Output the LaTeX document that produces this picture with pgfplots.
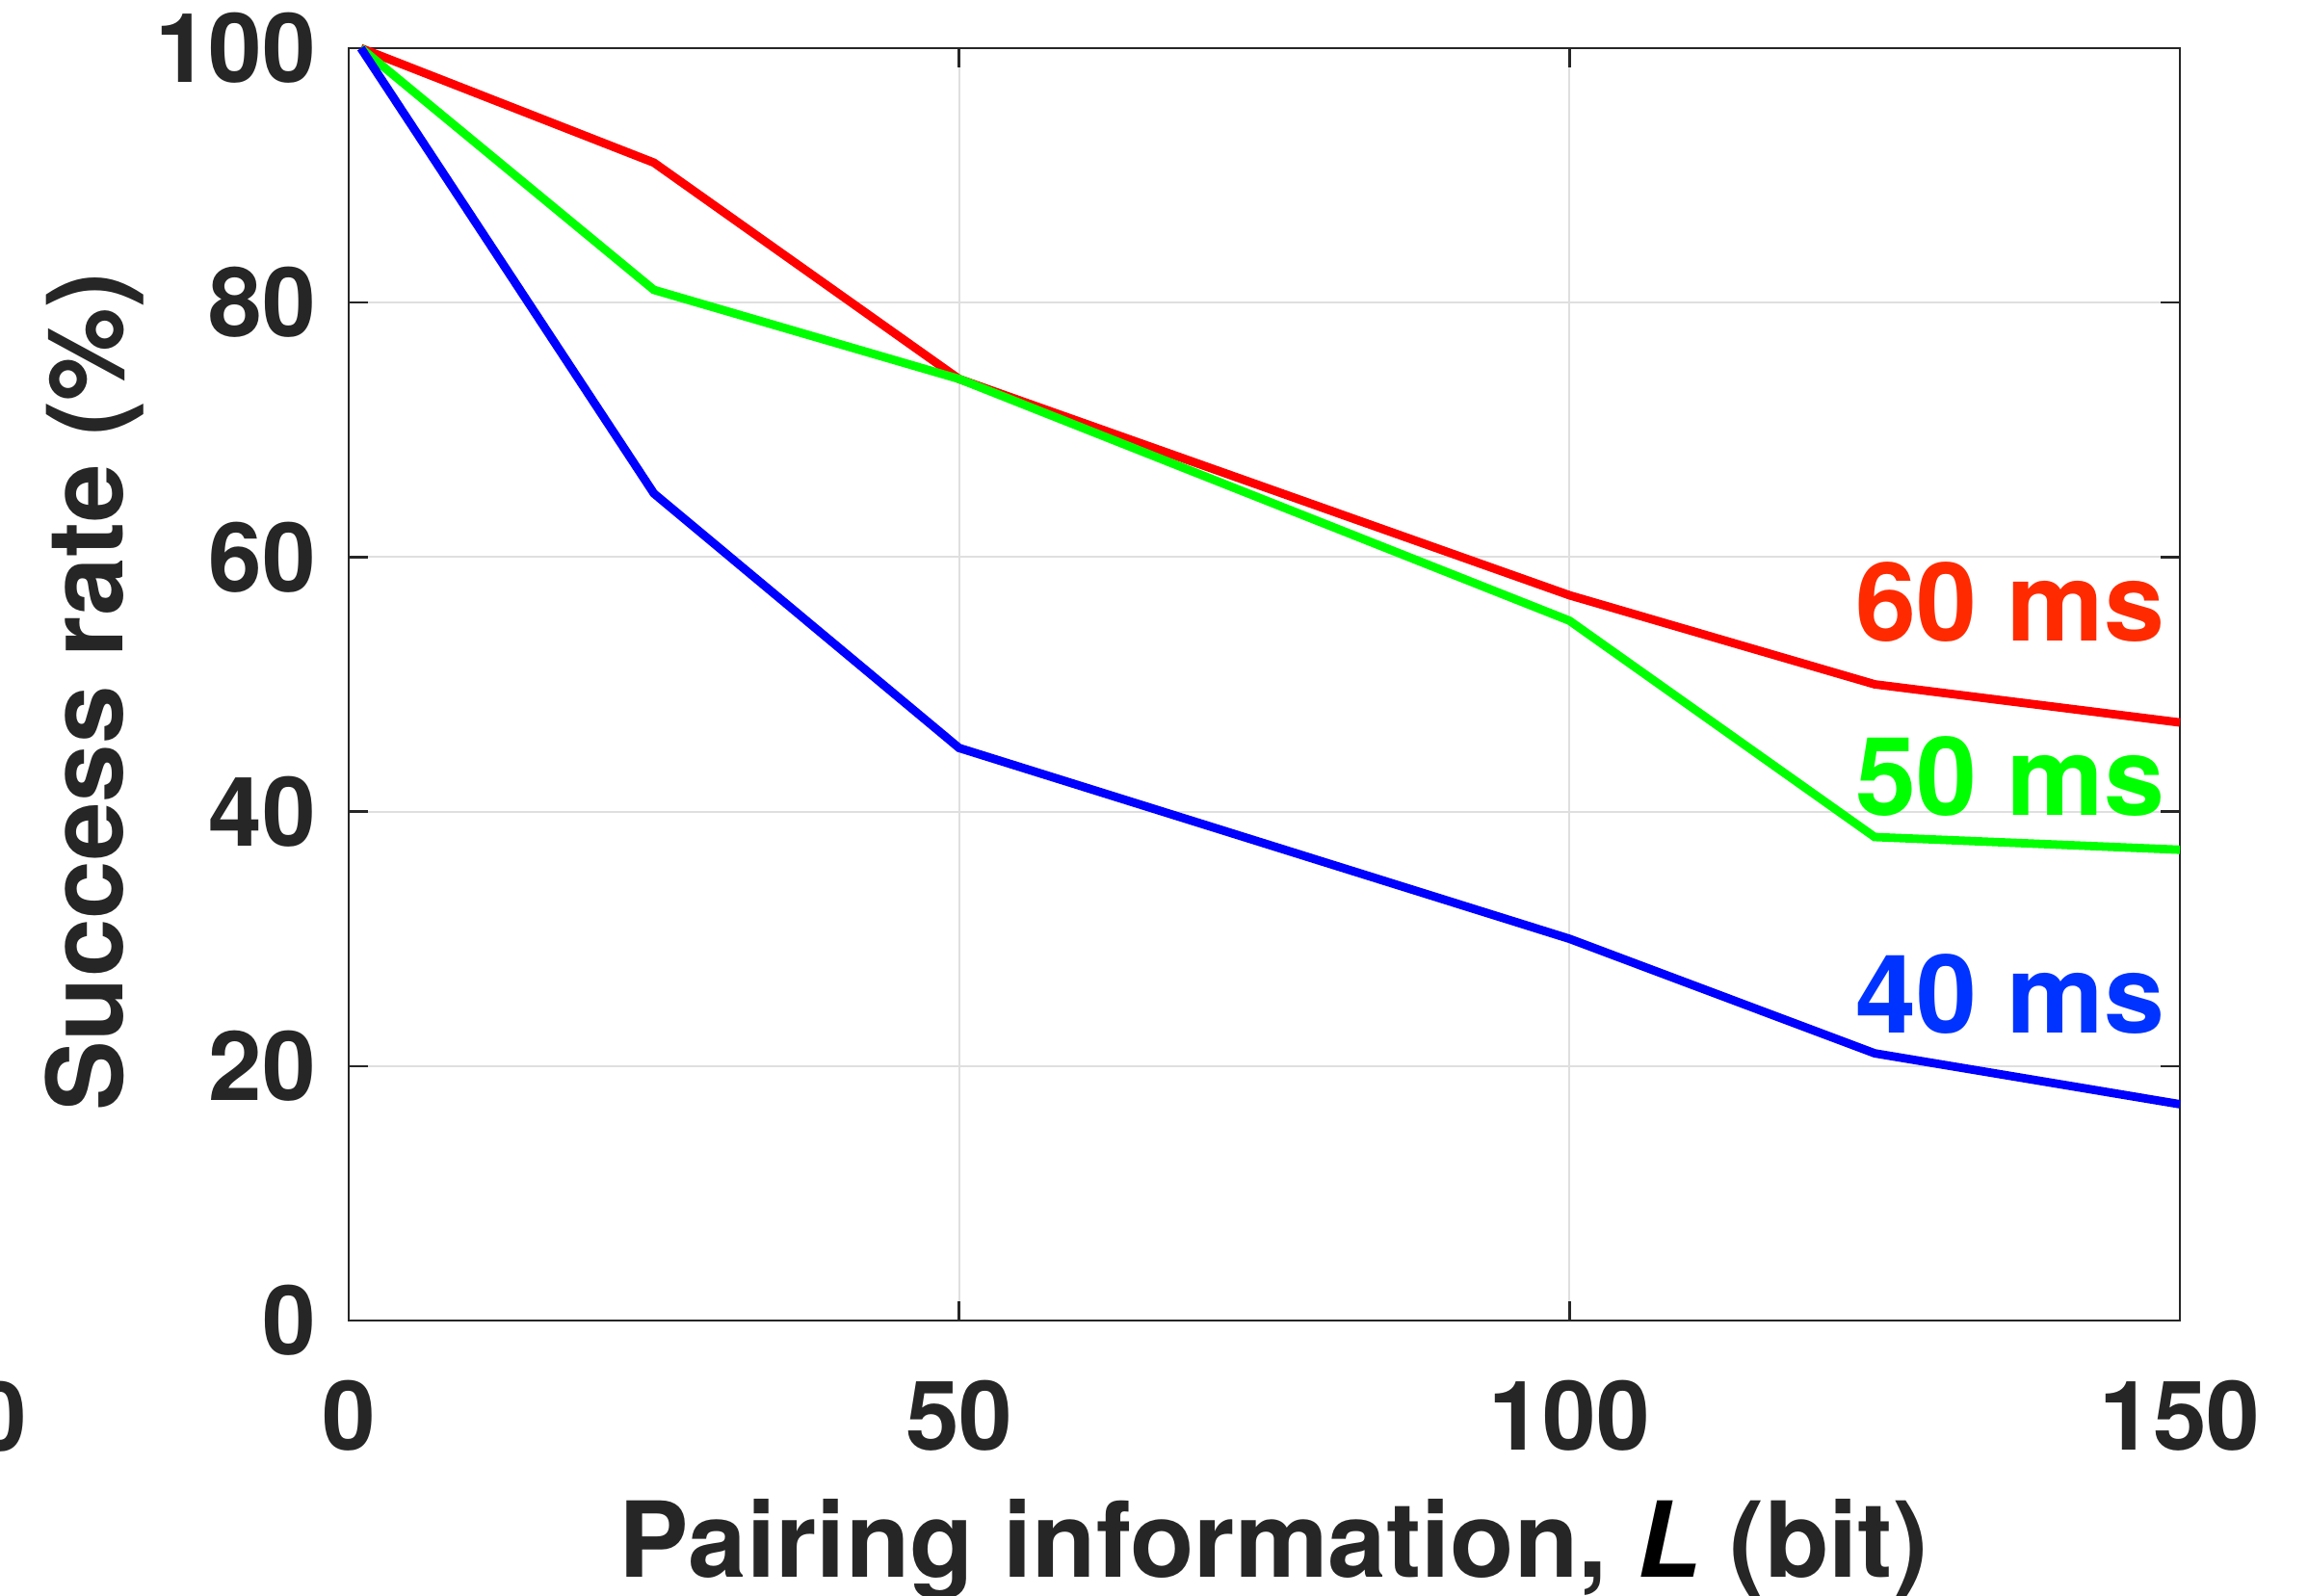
\documentclass[border=0pt]{standalone}
\usepackage{pgfplots}
\pgfplotsset{compat=1.18}
\usepackage{fontspec}
\setmainfont{TeX Gyre Heros}
\usetikzlibrary{calc}
\definecolor{axgray}{HTML}{262626}
\definecolor{gridgray}{HTML}{DFDFDF}
\definecolor{lred}{HTML}{FF2A00}
\definecolor{lgreen}{HTML}{00FF00}
\definecolor{lblue}{HTML}{0033FF}
\begin{document}
\begin{tikzpicture}
\begin{axis}[
  name=ax,
  scale only axis,
  width=475.25pt, height=330.25pt,
  xmin=0, xmax=150, ymin=0, ymax=100,
  xtick={0,50,100,150}, ytick={0,20,40,60,80,100},
  grid=major,
  major grid style={draw=gridgray, line width=0.5pt},
  axis line style={draw=axgray, line width=0.6pt},
  tick style={draw=axgray, line width=0.6pt},
  tick align=inside,
  major tick length=5pt,
  /pgf/number format/assume math mode=true,
  ticklabel style={font=\fontsize{25}{30}\selectfont\bfseries, text=axgray, inner sep=0pt},
  xticklabel style={yshift=-15.25pt},
  yticklabel style={xshift=-8.25pt},
  xlabel={Pairing information, \textcolor{black}{\textit{L}} (bit)},
  ylabel={Success rate (\%)},
  label style={font=\fontsize{27.2}{33}\selectfont\bfseries, text=axgray, inner sep=0pt},
  xlabel style={at={(axis description cs:0.505,-0.2014)}, anchor=base},
  ylabel style={at={(axis description cs:-0.1236,0.494)}, anchor=base},
  clip=false,
]
\addplot[color=red, line width=2.2pt] coordinates {(1,100) (25,91) (50,74) (100,57) (125,50) (150,47)};
\addplot[color=green, line width=2.2pt] coordinates {(1,100) (25,81) (50,74) (100,55) (125,38) (150,37)};
\addplot[color=blue, line width=2.2pt] coordinates {(1,100) (25,65) (50,45) (100,30) (125,21) (150,17)};
\node[anchor=base east, inner sep=0pt, text=lred, font=\fontsize{28.3}{34}\selectfont\bfseries] at (axis cs:148.8,53.4) {60 ms};
\node[anchor=base east, inner sep=0pt, text=lgreen, font=\fontsize{28.3}{34}\selectfont\bfseries] at (axis cs:148.8,39.7) {50 ms};
\node[anchor=base east, inner sep=0pt, text=lblue, font=\fontsize{28.3}{34}\selectfont\bfseries] at (axis cs:148.8,22.6) {40 ms};
\node[anchor=base east, inner sep=0pt, text=axgray, font=\fontsize{25}{30}\selectfont\bfseries] at (axis description cs:-0.1752,-0.1022) {150};
\end{axis}
\pgfresetboundingbox
\useasboundingbox ($(ax.south west)+(-90.5pt,-71.5pt)$) rectangle ($(ax.north east)+(33.25pt,12.5pt)$);
\end{tikzpicture}
\end{document}
